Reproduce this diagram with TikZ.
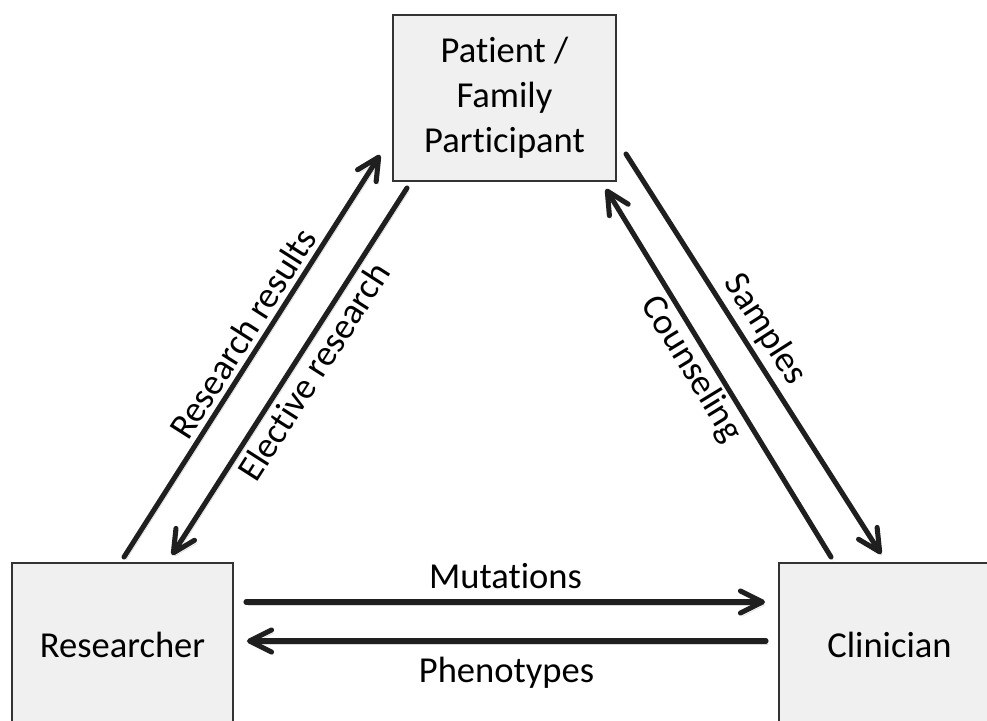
\documentclass[tikz,border=0pt]{standalone}
\usepackage{fontspec}
\setmainfont{Carlito}[Ligatures=NoCommon]
\usetikzlibrary{arrows.meta}

\begin{document}
\begin{tikzpicture}[
	party/.style={draw=black!80, line width=1.4pt, fill=black!6, minimum width=5.525cm, minimum height=4.1cm, align=center, font=\fontsize{26}{32}\selectfont},
	flow/.style={line width=3.6pt, draw=black!88, line cap=round, -{Straight Barb[length=0.55cm,width=0.55cm,round]},
		preaction={draw=black!15, transform canvas={shift={(0.05,-0.08)}}}},
	lbl/.style={font=\fontsize{26}{32}\selectfont}
]
	\useasboundingbox (0,0) rectangle (24.675,18);
	\clip (0,0) rectangle (24.675,18);
	\node[party, minimum width=5.575cm, minimum height=4.15cm] (patient) at (12.6125,15.55) {Patient /\\Family\\Participant};
	\node[party] (researcher) at (3.0625,1.875) {Researcher};
	\node[party] (clinician) at (22.2375,1.875) {Clinician};
	% researcher <-> patient
	\draw[flow] ([shift={(2.825,0.125)}]researcher.north west) -- node[lbl,pos=0.53,above,sloped] {Research results} ([shift={(-0.3,0.675)}]patient.south west);
	\draw[flow] ([shift={(0.375,-0.15)}]patient.south west) -- node[lbl,pos=0.47,below,sloped] {Elective research} ([shift={(4.025,0.175)}]researcher.north west);
	% patient <-> clinician
	\draw[flow] ([shift={(0.225,0.7)}]patient.south east) -- node[lbl,pos=0.47,above,sloped] {Samples} ([shift={(2.575,0.2)}]clinician.north west);
	\draw[flow] ([shift={(1.325,0.125)}]clinician.north west) -- node[lbl,pos=0.54,below,sloped,inner sep=2pt] {Counseling} ([shift={(-0.275,-0.175)}]patient.south east);
	% researcher <-> clinician
	\draw[flow] ([shift={(0.3,-1.0)}]researcher.north east) -- node[lbl,midway,above=0.15cm] {Mutations} ([shift={(-0.325,-1.0)}]clinician.north west);
	\draw[flow] ([shift={(-0.3,-1.975)}]clinician.north west) -- node[lbl,midway,below=0.22cm] {Phenotypes} ([shift={(0.325,-1.975)}]researcher.north east);
\end{tikzpicture}
\end{document}
